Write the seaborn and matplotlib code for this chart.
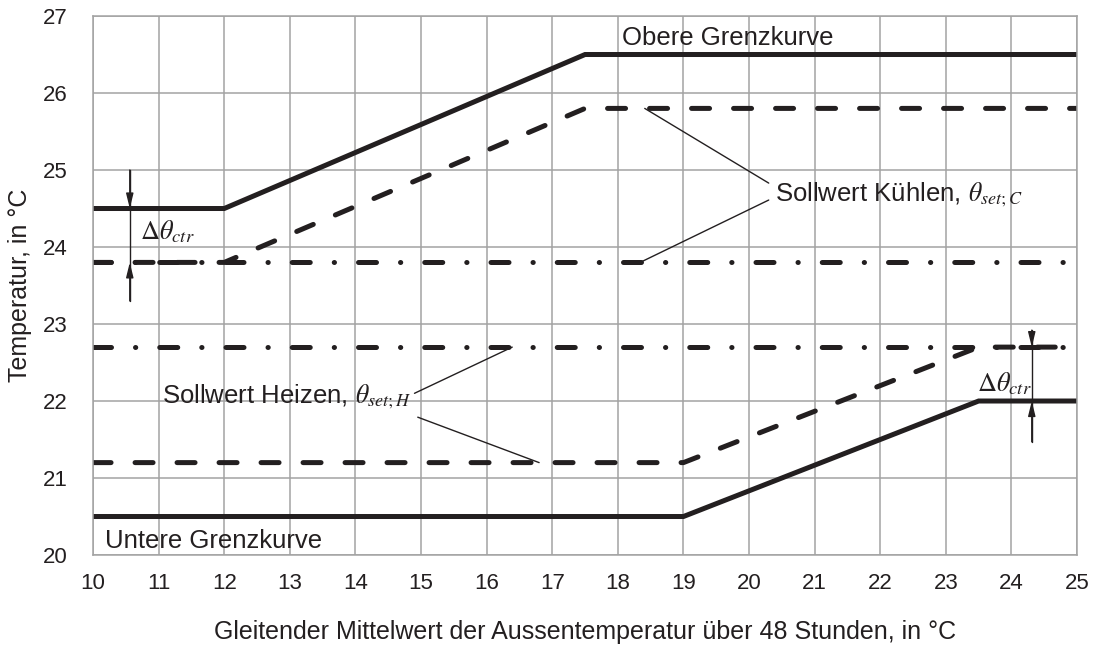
import matplotlib
matplotlib.use("Agg")
import matplotlib.pyplot as plt
import seaborn as sns

# Kurvendaten (x = gleitender Mittelwert Aussentemperatur, y = Raumtemperatur)
obere_x = [10, 12, 17.5, 25]
obere_y = [24.5, 24.5, 26.5, 26.5]
kuehlen_x = [10, 12, 17.5, 25]
kuehlen_y = [23.8, 23.8, 25.8, 25.8]
kuehlen_min_x = [10, 25]
kuehlen_min_y = [23.8, 23.8]
heizen_max_x = [10, 25]
heizen_max_y = [22.7, 22.7]
heizen_x = [10, 19, 23.5, 25]
heizen_y = [21.2, 21.2, 22.7, 22.7]
untere_x = [10, 19, 23.5, 25]
untere_y = [20.5, 20.5, 22.0, 22.0]

x_ticks = list(range(10, 26))
y_ticks = list(range(20, 28))

sns.set_style("white")
plt.rcParams['font.family'] = ['Liberation Sans', 'DejaVu Sans']
plt.rcParams['mathtext.fontset'] = 'stix'

ink = '#231f20'
grid_c = '#a3a3a3'
lw = 3.6

fig = plt.figure(figsize=(10.96, 6.48), dpi=100)
ax = fig.add_axes([0.0849, 0.1435, 0.8978, 0.8318])

common = dict(color=ink, lw=lw, solid_joinstyle='miter', dash_capstyle='round', ax=ax)
sns.lineplot(x=obere_x, y=obere_y, **common)
sns.lineplot(x=untere_x, y=untere_y, **common)
sns.lineplot(x=kuehlen_x, y=kuehlen_y, ls=(0, (3.6, 4.8)), **common)
sns.lineplot(x=heizen_x, y=heizen_y, ls=(0, (3.6, 4.8)), **common)
sns.lineplot(x=kuehlen_min_x, y=kuehlen_min_y, ls=(0, (3.6, 4.8, 0.05, 4.8)), **common)
sns.lineplot(x=heizen_max_x, y=heizen_max_y, ls=(0, (3.6, 4.8, 0.05, 4.8)), **common)

ax.set_xlim(10, 25)
ax.set_ylim(20, 27)
ax.set_xticks(x_ticks)
ax.set_yticks(y_ticks)
ax.grid(True, color=grid_c, lw=1.1)
ax.set_axisbelow(True)
for s in ax.spines.values():
    s.set_color(grid_c)
    s.set_linewidth(1.1)
ax.tick_params(axis='both', which='major', direction='out', color=grid_c, width=1.1,
               labelsize=16, labelcolor=ink)
ax.tick_params(axis='x', length=8, pad=5)
ax.tick_params(axis='y', length=7, pad=11)

ax.set_xlabel('Gleitender Mittelwert der Aussentemperatur über 48 Stunden, in °C',
              fontsize=18, color=ink, labelpad=19)
ax.set_ylabel('Temperatur, in °C', fontsize=18, color=ink, labelpad=8)

# Beschriftungen
ax.text(18.06, 26.72, 'Obere Grenzkurve', fontsize=18.5, color=ink, va='center')
ax.text(10.18, 20.18, 'Untere Grenzkurve', fontsize=18.5, color=ink, va='center')
ax.text(20.4, 24.68, 'Sollwert Kühlen, $\\theta_{set;C}$', fontsize=18.5, color=ink, va='center')
ax.text(11.05, 22.06, 'Sollwert Heizen, $\\theta_{set;H}$', fontsize=18.5, color=ink, va='center')

# Hinweislinien
leader = dict(color=ink, lw=1.0)
ax.plot([20.3, 18.41], [24.83, 25.8], **leader)
ax.plot([20.3, 18.34], [24.61, 23.8], **leader)
ax.plot([14.9, 16.39], [22.1, 22.7], **leader)
ax.plot([14.95, 16.8], [21.79, 21.2], **leader)

# Delta-theta Pfeile
arrow = dict(arrowstyle='-|>,head_length=0.9,head_width=0.22', color=ink, lw=1.0,
             shrinkA=0, shrinkB=0)
ax.plot([10.56, 10.56], [25.0, 23.3], color=ink, lw=1.0)
ax.annotate('', xy=(10.56, 24.5), xytext=(10.56, 25.0), arrowprops=arrow)
ax.annotate('', xy=(10.56, 23.8), xytext=(10.56, 23.3), arrowprops=arrow)
ax.text(10.72, 24.2, '$\\mathit{\\Delta}\\theta_{ctr}$', fontsize=19, color=ink, va='center')

ax.plot([24.31, 24.31], [22.92, 21.47], color=ink, lw=1.0)
ax.annotate('', xy=(24.31, 22.7), xytext=(24.31, 22.92), arrowprops=arrow)
ax.annotate('', xy=(24.31, 22.0), xytext=(24.31, 21.47), arrowprops=arrow)
ax.text(23.48, 22.22, '$\\mathit{\\Delta}\\theta_{ctr}$', fontsize=19, color=ink, va='center')

fig.savefig('out.png', dpi=100)
